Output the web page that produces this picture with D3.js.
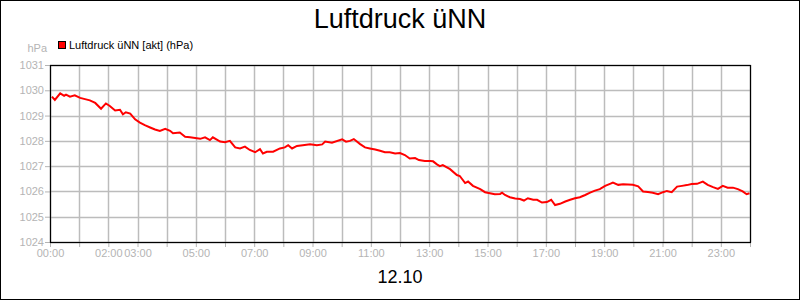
<!DOCTYPE html>
<html>
<head>
<meta charset="utf-8">
<script src="https://cdn.jsdelivr.net/npm/d3@7"></script>
<style>
  body { margin: 0; background: #fff; }
  svg text { font-family: "Liberation Sans", Arial, sans-serif; }
</style>
</head>
<body>
<div id="chart"></div>
<script>
// Messwerte (Uhrzeit / Luftdruck in hPa)
var zeit = ["00:04","00:10","00:21","00:29","00:33","00:41","00:51","01:02","01:12","01:22",
  "01:33","01:45","01:55","02:03","02:14","02:24","02:30","02:36","02:45","02:55",
  "03:05","03:15","03:26","03:36","03:46","03:57","04:07","04:13","04:27","04:38",
  "04:48","05:09","05:19","05:29","05:35","05:50","06:00","06:10","06:21","06:31",
  "06:41","06:51","07:02","07:12","07:18","07:26","07:39","07:53","08:03","08:10",
  "08:18","08:28","08:40","08:55","09:09","09:20","09:26","09:40","10:01","10:09",
  "10:17","10:25","10:38","10:48","10:58","11:09","11:19","11:29","11:39","11:50",
  "12:00","12:10","12:20","12:31","12:39","12:51","13:02","13:08","13:16","13:22",
  "13:28","13:43","13:57","14:03","14:14","14:20","14:30","14:45","14:55","15:05",
  "15:15","15:26","15:30","15:36","15:46","15:57","16:07","16:15","16:23","16:34",
  "16:42","16:52","17:02","17:11","17:19","17:29","17:40","17:50","18:00","18:10",
  "18:21","18:31","18:41","18:51","19:02","19:12","19:18","19:29","19:39","19:49",
  "19:59","20:10","20:20","20:30","20:40","20:51","21:01","21:09","21:19","21:30",
  "21:40","21:50","22:00","22:11","22:23","22:33","22:44","22:54","23:04","23:14",
  "23:25","23:35","23:45","23:53","23:59"];
var druck = [1029.75,1029.62,1029.88,1029.78,1029.83,1029.75,1029.80,1029.70,1029.65,1029.60,
  1029.50,1029.27,1029.48,1029.38,1029.20,1029.23,1029.05,1029.13,1029.08,1028.85,
  1028.72,1028.62,1028.53,1028.45,1028.39,1028.48,1028.40,1028.30,1028.33,1028.16,
  1028.14,1028.08,1028.14,1028.03,1028.14,1027.97,1027.95,1028.00,1027.74,1027.70,
  1027.77,1027.64,1027.55,1027.67,1027.50,1027.57,1027.57,1027.70,1027.74,1027.83,
  1027.70,1027.80,1027.83,1027.87,1027.83,1027.86,1027.97,1027.93,1028.06,1027.97,
  1028.00,1028.07,1027.87,1027.74,1027.70,1027.66,1027.61,1027.55,1027.55,1027.50,
  1027.52,1027.44,1027.30,1027.32,1027.24,1027.20,1027.20,1027.19,1027.07,1027.00,
  1027.04,1026.88,1026.65,1026.61,1026.33,1026.39,1026.22,1026.09,1025.97,1025.93,
  1025.89,1025.90,1025.95,1025.86,1025.77,1025.72,1025.70,1025.64,1025.73,1025.67,
  1025.67,1025.56,1025.58,1025.67,1025.46,1025.51,1025.60,1025.67,1025.73,1025.77,
  1025.86,1025.95,1026.03,1026.09,1026.22,1026.30,1026.35,1026.26,1026.28,1026.27,
  1026.26,1026.20,1026.00,1025.98,1025.95,1025.89,1025.97,1026.02,1025.97,1026.19,
  1026.22,1026.25,1026.29,1026.30,1026.39,1026.26,1026.17,1026.10,1026.22,1026.15,
  1026.15,1026.09,1026.00,1025.89,1025.93];

var xTickLabels = ["00:00","02:00","03:00","05:00","07:00","09:00","11:00",
  "13:00","15:00","17:00","19:00","21:00","23:00"];
var yTicks = [1024, 1025, 1026, 1027, 1028, 1029, 1030, 1031];

var svgWidth = 800;
var svgHeight = 300;
var margin = { top: 65, right: 50, bottom: 58, left: 50 };
var width = svgWidth - margin.left - margin.right;
var height = svgHeight - margin.top - margin.bottom;

var grey = "#b4b4b4";

var svg = d3.select("#chart")
  .append("svg")
  .attr("width", svgWidth)
  .attr("height", svgHeight);

// Rahmen um das ganze Bild
svg.append("rect")
  .attr("x", 0.5).attr("y", 0.5)
  .attr("width", svgWidth - 1).attr("height", svgHeight - 1)
  .attr("fill", "#fff").attr("stroke", "#000");

var chartGroup = svg.append("g")
  .attr("transform", `translate(${margin.left}, ${margin.top})`);

// Minuten seit Mitternacht
function minuten(s) {
  var p = s.split(":");
  return +p[0] * 60 + +p[1];
}

var data = zeit.map(function(t, i) {
  return { t: minuten(t), v: druck[i] };
});

var xScale = d3.scaleLinear().domain([0, 24 * 60]).range([0, width]);
var yScale = d3.scaleLinear().domain([1024, 1031]).range([height, 0]);

var hourTicks = d3.range(0, 25).map(h => h * 60);

// Gitter
chartGroup.append("g")
  .selectAll("line")
  .data(hourTicks)
  .enter()
  .append("line")
  .attr("x1", d => Math.round(xScale(d)) + 0.5)
  .attr("x2", d => Math.round(xScale(d)) + 0.5)
  .attr("y1", 0).attr("y2", height)
  .attr("stroke", "#bcbcbc").attr("stroke-width", 1.5);

chartGroup.append("g")
  .selectAll("line")
  .data(yTicks)
  .enter()
  .append("line")
  .attr("x1", 0).attr("x2", width)
  .attr("y1", d => Math.round(yScale(d)) + 0.5)
  .attr("y2", d => Math.round(yScale(d)) + 0.5)
  .attr("stroke", "#bcbcbc").attr("stroke-width", 1.5);

// Achsen
var bottomAxis = d3.axisBottom(xScale)
  .tickValues(hourTicks)
  .tickSize(5)
  .tickFormat(function(d) {
    var s = d3.format("02d")(d / 60) + ":00";
    return xTickLabels.indexOf(s) >= 0 ? s : "";
  });

var leftAxis = d3.axisLeft(yScale)
  .tickValues(yTicks)
  .tickSize(5)
  .tickFormat(d3.format("d"));

var xAxisG = chartGroup.append("g")
  .attr("transform", `translate(0, ${height})`)
  .call(bottomAxis);
var yAxisG = chartGroup.append("g").call(leftAxis);

[xAxisG, yAxisG].forEach(function(g) {
  g.select(".domain").remove();
  g.selectAll(".tick line").attr("stroke", grey);
  g.selectAll(".tick text")
    .attr("fill", grey)
    .style("font-size", "11px")
    .style("font-family", "'Liberation Sans', Arial, sans-serif");
});
xAxisG.selectAll(".tick text").attr("y", 7).attr("dy", "0.71em");
yAxisG.selectAll(".tick text").attr("x", -6);

// Linie
var line = d3.line()
  .x(d => xScale(d.t))
  .y(d => yScale(d.v));

chartGroup.append("path")
  .datum(data)
  .attr("fill", "none")
  .attr("stroke", "#ff0000")
  .attr("stroke-width", 2)
  .attr("d", line);

// Plotrahmen
chartGroup.append("rect")
  .attr("x", 0.5).attr("y", 0.5)
  .attr("width", width).attr("height", height)
  .attr("fill", "none").attr("stroke", "#000").attr("stroke-width", 1.2);

// Titel
svg.append("text")
  .attr("x", svgWidth / 2).attr("y", 28)
  .attr("text-anchor", "middle")
  .style("font-size", "27px")
  .text("Luftdruck üNN");

// Legende
svg.append("rect")
  .attr("x", 58.5).attr("y", 41.5)
  .attr("width", 7).attr("height", 7)
  .attr("fill", "#ff0000").attr("stroke", "#000");
svg.append("text")
  .attr("x", 69).attr("y", 49)
  .style("font-size", "11px")
  .text("Luftdruck üNN [akt] (hPa)");

// Einheit
svg.append("text")
  .attr("x", 47).attr("y", 52)
  .attr("text-anchor", "end")
  .attr("fill", grey)
  .style("font-size", "11px")
  .text("hPa");

// Datum
svg.append("text")
  .attr("x", svgWidth / 2).attr("y", 283)
  .attr("text-anchor", "middle")
  .style("font-size", "18px")
  .text("12.10");
</script>
</body>
</html>
